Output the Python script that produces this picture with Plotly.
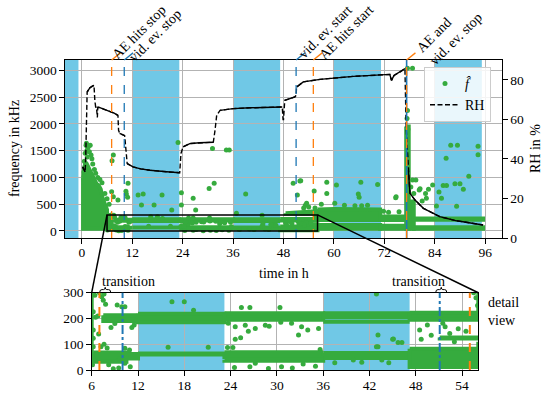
import plotly.graph_objects as go

# ---------------- data ----------------
night_start = [-4, 12, 36, 60, 84]
night_end = [-0.8, 23.2, 47.2, 71.2, 95.2]

# relative humidity (right axis)
rh_t = [0.2, 0.5, 0.8, 0.95, 1.1, 1.27, 1.9, 2.4, 2.9, 3.1, 3.3, 3.5, 3.65, 3.7, 3.8, 4.3, 5.5, 6.7, 7.7, 8.6,
        8.75, 9.0, 9.8, 10.2, 10.8, 12.2, 14.0, 16.2, 20.2, 23.3, 23.6, 24.1, 25.7, 28.0, 31.3, 31.7, 32.1, 32.9,
        36.0, 40.0, 44.8, 47.7, 47.9, 48.0, 48.3, 50.7, 51.0, 51.1, 52.7, 56.7, 64.6, 73.3, 73.7, 74.3, 75.7, 76.9,
        77.2, 77.7, 78.1, 79.3, 81.3, 85.2, 89.2, 95.5]
rh_v = [36, 34.5, 33.5, 43, 60, 73.9, 76, 76.8, 77.3, 69.7, 66.3, 66.0, 61.0, 61.0, 66.2, 66.0, 65.0, 64.1, 63.2, 62.1,
        54.5, 53.0, 52.3, 51.8, 37.7, 36.0, 35.0, 34.3, 33.5, 33.0, 42.8, 46.1, 47.8, 48.2, 48.5, 54.5, 62.1, 64.6,
        65.5, 65.9, 66.1, 66.3, 60.0, 60.0, 69.7, 71.4, 72.2, 76.4, 79.0, 80.3, 81.8, 82.8, 79.8, 82.3, 84.0, 85.7,
        55.0, 34.3, 22.6, 19.2, 15.0, 10.8, 8.7, 6.6]
# dense (visually solid) stretches of the RH record
rh_solid = [(0.2, 0.8), (1.27, 2.9), (3.3, 3.5), (3.8, 8.6), (9.0, 10.2), (10.8, 23.3), (24.1, 31.3),
            (32.9, 47.7), (48.3, 51.0), (51.1, 76.9), (77.7, 95.5)]

# dense clusters of frequency estimates: (time list, lower kHz, upper kHz)
band_t = [
    [0.3, 0.6, 1.0, 1.5, 2.0, 2.5, 3.0, 3.5, 4.0, 4.5, 5.0, 5.5, 6.0],
    [7.5, 12.0], [12.0, 23.2], [23.2, 36.0], [36.0, 47.2], [36.0, 47.2], [47.2, 56.1],
    [6.2, 10.5], [10.5, 12.0], [12.0, 23.2], [23.2, 36.0], [23.2, 36.0], [23.2, 36.0],
    [36.0, 47.2], [36.0, 47.2], [47.2, 56.1], [51.1, 56.1],
    [48.5, 50.0, 52.0, 54.0, 56.1],
    [56.1, 71.0], [56.1, 60.0, 71.0], [71.0, 77.2], [71.0, 77.2],
    [77.2, 77.8], [77.8, 79.0], [79.0, 95.5], [79.0, 95.5],
]
band_lo = [
    40,
    190, 185, 195, 205, 184, 195,
    32, 45, 60, 66, 50, 36,
    62, 44, 12, 122,
    320,
    40, 205, 40, 205,
    40, 40, 40, 210,
]
band_hi = [
    [1000, 1200, 1280, 1200, 1100, 1000, 920, 880, 850, 780, 600, 470, 400],
    212, 218, 220, 220, 187, 222,
    68, 62, 64, 69, 54, 40,
    66, 47, 82, 126,
    [330, 345, 350, 360, 370],
    110, [400, 410, 400], 100, 270,
    1950, 550, 70, 235,
]

# individual (sparse) frequency estimates
pt_t = [0.5, 0.6, 0.8, 1.0, 1.1, 1.2, 1.4, 1.6, 1.8, 2.0, 2.2, 2.4, 1.3, 0.9, 2.6, 3.0, 3.3, 3.8, 4.3, 4.8, 5.5,
        6.0, 6.5, 7.1, 7.5, 7.2, 7.5, 8.6, 10.5, 10.6, 10.9, 11.0, 13.4, 14.6, 14.2, 17.2, 19.1, 21.4, 23.7, 23.7,
        22.9, 26.5, 27.1, 30.3, 31.5, 31.1, 34.4, 35.1, 39.0, 36.8, 50.3, 51.9, 51.3, 58.3, 58.3, 55.3, 60.6, 52.1,
        66.4, 65.8, 66.0, 66.6, 70.4, 74.7, 74.8, 77.5, 78.7, 77.5, 77.4, 77.6, 78.7, 79.5, 80.3, 80.5, 81.8, 82.0,
        82.5, 83.5, 85.0, 85.6, 86.0, 86.8, 86.7, 87.8, 89.4, 88.8, 90.0, 90.8, 89.2, 92.1, 94.3, 94.3, 84.4, 81.0,
        79.0, 78.3, 53.5, 53.2, 54.0, 52.8, 55.5, 57.0, 60.2, 62.5, 65.0, 68.0, 71.8, 73.0, 75.5,
        6.2, 6.2, 6.2, 6.2, 6.1, 6.4, 7.3, 7.5, 7.6, 7.0, 7.8, 6.8, 6.5, 9.3, 9.9, 10.3, 10.3, 10.9, 11.0, 10.3,
        8.5, 9.0, 11.2, 11.5, 7.2, 8.0, 9.5, 8.8, 15.9, 21.1, 16.4, 18.0, 19.2, 25.4, 26.5, 30.4, 24.6, 25.3, 32.8,
        23.6, 24.3, 35.6, 23.7, 24.6, 25.9, 27.2, 28.5, 31.9, 33.2, 35.4, 26.3, 29.0, 34.0, 30.5, 26.5, 28.9, 30.6,
        33.4, 27.2, 24.5, 32.0, 35.0, 42.9, 45.1, 45.7, 46.2, 43.1, 39.9, 43.6, 37.5, 41.0, 44.5, 42.9, 45.0, 43.1,
        48.5, 48.7, 51.5, 51.8, 52.4, 53.5, 54.5, 49.5, 55.5, 55.8, 56.0, 50.0, 53.0, 6.6, 7.0, 8.2, 9.6, 6.9, 7.6]
pt_f = [1100, 1300, 1450, 1600, 1640, 1500, 1550, 1580, 1480, 1600, 1420, 1350, 1380, 1250, 1250, 1150, 1080, 1000,
        960, 900, 700, 600, 500, 733, 640, 1310, 1418, 578, 740, 690, 630, 890, 670, 690, 485, 485, 670, 390, 715,
        485, 1650, 610, 390, 795, 890, 1540, 1510, 1510, 690, 330, 890, 933, 670, 910, 700, 745, 860, 938, 910, 690,
        630, 470, 870, 620, 640, 3040, 3040, 2250, 2100, 1900, 950, 950, 765, 790, 700, 610, 780, 860, 730, 610, 850,
        850, 1356, 1600, 1600, 880, 880, 780, 460, 1020, 1580, 1425, 466, 560, 700, 820, 520, 480, 450, 430, 430,
        500, 520, 480, 470, 480, 370, 350, 360,
        226, 155, 123, 90, 20, 290, 284, 271, 295, 300, 255, 210, 205, 252, 245, 245, 84, 78, 13, 26,
        165, 180, 165, 175, 90, 85, 8, 5, 88, 88, 265, 265, 232, 243, 243, 243, 119, 125, 136,
        87, 87, 80, 181, 168, 174, 161, 174, 181, 168, 161, 150, 170, 155, 185, 13, 6, 13,
        23, 26, 10, 8, 15, 295, 120, 107, 107, 90, 39, 39, 28, 30, 28, 90, 119, 136,
        155, 119, 181, 168, 142, 160, 150, 175, 300, 280, 250, 135, 110, 60, 40, 20, 45, 140, 100]

# event markers: (time, colour, dash)
main_events = [(7.1, "#ff7f0e", "dash"), (10.1, "#1f77b4", "dash"), (51.0, "#1f77b4", "dash"),
               (55.1, "#ff7f0e", "dash"), (77.3, "#1f77b4", "solid"), (77.3, "#ff7f0e", "dash")]
inset_events = [(7.0, "#ff7f0e", "dash"), (10.0, "#1f77b4", "dashdot"), (51.1, "#1f77b4", "dashdot"),
                (55.0, "#ff7f0e", "dash")]
event_labels = ["AE hits stop", "vid. ev. stop", "vid. ev. start", "AE hits start", "AE and<br>vid. ev. stop"]
event_label_t = [7.1, 10.1, 51.0, 55.1, 77.3]
event_label_c = ["#ff7f0e", "#1f77b4", "#1f77b4", "#ff7f0e", "#ff7f0e"]
event_label_px = [(139, 33), (155, 35), (324.5, 32), (346, 32), (449.5, 33)]

main_xticks = [0, 12, 24, 36, 48, 60, 72, 84, 96]
main_yticks = [0, 500, 1000, 1500, 2000, 2500, 3000]
rh_ticks = [0, 20, 40, 60, 80]
inset_xticks = [6, 12, 18, 24, 30, 36, 42, 48, 54]
inset_yticks = [0, 100, 200, 300]
brace_t = [(7.05, 8.45), (50.6, 52.0)]

# ---------------- layout geometry ----------------
W, H = 550, 398
FONT = "Liberation Serif"
GREEN = "#36ab3e"
NIGHT = "#70c8e6"
GRID = "#b3b3b3"

MX = [65 / W, 502 / W]
MY = [1 - 238 / H, 1 - 60 / H]
IX = [91.7 / W, 478.3 / W]
IY = [1 - 370 / H, 1 - 292.7 / H]
XR = [-4, 100]
YR = [-131, 3192]
Y2R = [0, 90.1]
IXR = [6, 56.1]
IYR = [0, 300]


def px(x, y):
    return x / W, 1 - y / H


def to_paper(h, f, xd, yd, xr, yr):
    return (xd[0] + (h - xr[0]) / (xr[1] - xr[0]) * (xd[1] - xd[0]),
            yd[0] + (f - yr[0]) / (yr[1] - yr[0]) * (yd[1] - yd[0]))


def polys():
    xs, ys = [], []
    for t, lo, hi in zip(band_t, band_lo, band_hi):
        lo_l = lo if isinstance(lo, list) else [lo] * len(t)
        hi_l = hi if isinstance(hi, list) else [hi] * len(t)
        xs += list(t) + list(t)[::-1] + [t[0], None]
        ys += hi_l + lo_l[::-1] + [hi_l[0], None]
    return xs, ys


fig = go.Figure()
bx, by = polys()
for xa, ya in (("x", "y"), ("x3", "y3")):
    fig.add_trace(go.Scatter(x=bx, y=by, xaxis=xa, yaxis=ya, mode="lines", fill="toself",
                             fillcolor=GREEN, line=dict(color=GREEN, width=4), showlegend=False,
                             hoverinfo="skip"))
fig.add_trace(go.Scatter(x=pt_t, y=pt_f, xaxis="x3", yaxis="y3", mode="markers",
                         marker=dict(color=GREEN, size=5), showlegend=False))
fig.add_trace(go.Scatter(x=pt_t, y=pt_f, xaxis="x", yaxis="y", mode="markers",
                         marker=dict(color=GREEN, size=5), name="<i>f\u0302</i>"))
fig.add_trace(go.Scatter(x=rh_t, y=rh_v, xaxis="x", yaxis="y2", mode="lines",
                         line=dict(color="black", width=1.4, dash="5px,2.5px"), name="RH"))
for a, b in rh_solid:
    idx = [i for i, t in enumerate(rh_t) if a <= t <= b]
    fig.add_trace(go.Scatter(x=[rh_t[i] for i in idx], y=[rh_v[i] for i in idx], xaxis="x", yaxis="y2",
                             mode="lines", line=dict(color="black", width=1.4), showlegend=False))

shapes = []
for s, e in zip(night_start, night_end):
    shapes.append(dict(type="rect", xref="x", yref="y domain", x0=s, x1=e, y0=0, y1=1,
                       fillcolor=NIGHT, line_width=0, layer="below"))
    if e > IXR[0] and s < IXR[1]:
        shapes.append(dict(type="rect", xref="x3", yref="y3 domain", x0=max(s, IXR[0]), x1=min(e, IXR[1]),
                           y0=0, y1=1, fillcolor=NIGHT, line_width=0, layer="below"))
for t, c, d in main_events:
    shapes.append(dict(type="line", xref="x", yref="y domain", x0=t, x1=t, y0=0, y1=1,
                       line=dict(color=c, width=1.6 if d == "solid" else 1.3, dash=d), layer="above"))
for t, c in zip(event_label_t, event_label_c):
    shapes.append(dict(type="line", xref="x", yref="y domain", x0=t, x1=t + 2.1, y0=1, y1=1.04,
                       line=dict(color=c, width=1.3), layer="above"))
for t, c, d in inset_events:
    shapes.append(dict(type="line", xref="x3", yref="y3 domain", x0=t, x1=t, y0=0, y1=1,
                       line=dict(color=c, width=2, dash=d), layer="above"))
# zoom rectangle and connectors
shapes.append(dict(type="rect", xref="x", yref="y", x0=IXR[0], x1=IXR[1], y0=IYR[0], y1=IYR[1],
                   line=dict(color="black", width=1.5), layer="above"))
for h in IXR:
    p0 = to_paper(h, IYR[1], MX, MY, XR, YR)
    p1 = to_paper(h, IYR[1], IX, IY, IXR, IYR)
    shapes.append(dict(type="line", xref="paper", yref="paper", x0=p0[0], y0=p0[1], x1=p1[0], y1=p1[1],
                       line=dict(color="black", width=1.5), layer="above"))
# braces above the inset
yb, ym, yt = 1 - 292.0 / H, 1 - 289.6 / H, 1 - 287.3 / H
for a, b in brace_t:
    w = b - a
    m = (a + b) / 2
    path = (f"M {a},{yb} Q {a},{ym} {a + 0.2 * w},{ym} L {m - 0.15 * w},{ym} Q {m},{ym} {m},{yt} "
            f"Q {m},{ym} {m + 0.15 * w},{ym} L {b - 0.2 * w},{ym} Q {b},{ym} {b},{yb}")
    shapes.append(dict(type="path", xref="x3", yref="paper", path=path, line=dict(color="black", width=1)))

ann = []
for txt, (cx, cy) in zip(event_labels, event_label_px):
    x, y = px(cx, cy)
    ann.append(dict(text=txt, x=x, y=y, xref="paper", yref="paper", textangle=-45, showarrow=False,
                    xanchor="center", yanchor="middle", align="left", font=dict(size=14)))
x, y = px(283.5, 273)
ann.append(dict(text="time in h", x=x, y=y, xref="paper", yref="paper", showarrow=False,
                xanchor="center", yanchor="middle", font=dict(size=14)))
x, y = px(14, 149)
ann.append(dict(text="frequency in kHz", x=x, y=y, xref="paper", yref="paper", showarrow=False,
                textangle=-90, xanchor="center", yanchor="middle", font=dict(size=14)))
x, y = px(535, 149)
ann.append(dict(text="RH in %", x=x, y=y, xref="paper", yref="paper", showarrow=False,
                textangle=-90, xanchor="center", yanchor="middle", font=dict(size=14)))
x, y = px(486, 311.5)
ann.append(dict(text="detail<br>view", x=x, y=y, xref="paper", yref="paper", showarrow=False,
                xanchor="left", yanchor="middle", align="left", font=dict(size=14)))
ty = 1 - 281 / H
ann.append(dict(text="transition", x=brace_t[0][0], y=ty, xref="x3", yref="paper", showarrow=False,
                xanchor="left", yanchor="middle", font=dict(size=14)))
ann.append(dict(text="transition", x=brace_t[1][1], y=ty, xref="x3", yref="paper", showarrow=False,
                xanchor="right", yanchor="middle", font=dict(size=14)))

axis_common = dict(showline=True, linecolor="black", linewidth=1.2, mirror=True, ticks="outside",
                   ticklen=4.5, tickwidth=1.1, tickcolor="black", gridcolor=GRID, gridwidth=1.1,
                   zeroline=False, tickfont=dict(size=13.5), automargin=False)

fig.update_layout(
    width=W, height=H, margin=dict(l=0, r=0, t=0, b=0, autoexpand=False),
    paper_bgcolor="white", plot_bgcolor="white",
    font=dict(family=FONT, color="black", size=14),
    xaxis=dict(domain=MX, range=XR, tickvals=main_xticks, anchor="y", ticklabelstandoff=-3, **axis_common),
    yaxis=dict(domain=MY, range=YR, tickvals=main_yticks, anchor="x", **axis_common),
    yaxis2=dict(overlaying="y", side="right", range=Y2R, tickvals=rh_ticks, showgrid=False,
                showline=True, linecolor="black", linewidth=1.2, ticks="outside", ticklen=4.5,
                tickwidth=1.1, tickcolor="black", zeroline=False, tickfont=dict(size=13.5), anchor="x",
                automargin=False),
    xaxis3=dict(domain=IX, range=IXR, tickvals=inset_xticks, anchor="y3", ticklabelstandoff=-2, **axis_common),
    yaxis3=dict(domain=IY, range=IYR, tickvals=inset_yticks, anchor="x3", **axis_common),
    shapes=shapes, annotations=ann,
    legend=dict(x=424 / W, y=1 - 67 / H, xanchor="left", yanchor="top", bgcolor="rgba(255,255,255,0.85)",
                bordercolor="#cccccc", borderwidth=1, font=dict(size=14), itemwidth=30),
    showlegend=True,
)

fig.write_html("out.html", config={"displayModeBar": False},
               post_script="document.body.style.margin='0px';document.body.style.overflow='hidden';")
